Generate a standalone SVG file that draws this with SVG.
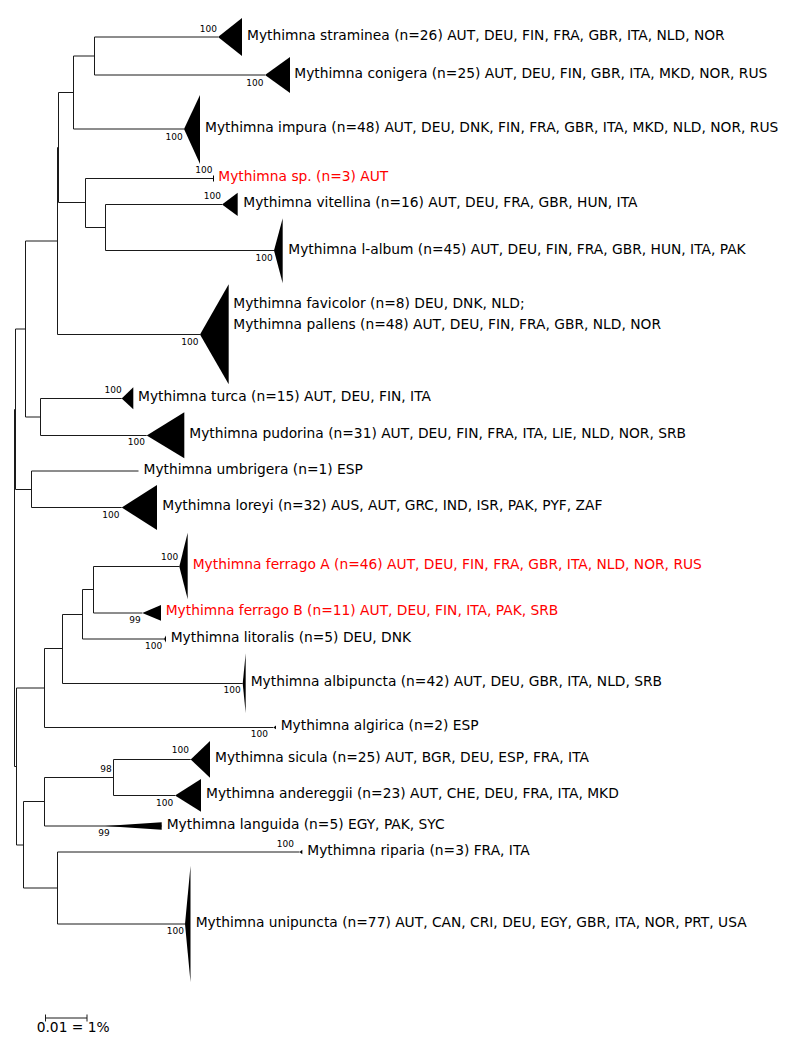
<svg xmlns="http://www.w3.org/2000/svg" width="787" height="1045" viewBox="0 0 787 1045">
<style>
text{font-family:"DejaVu Sans","Liberation Sans",sans-serif;}
.lab{font-size:13.8px;fill:#000;}
.red{fill:#ff0000;}
.bs{font-size:9px;fill:#000;text-anchor:end;}
.tri{fill:#000;stroke:none;}
.br{fill:none;stroke:#1a1a1a;stroke-width:1;}
</style>
<rect width="787" height="1045" fill="#fff"/>
<g id="connectors">
<path class="br" d="M94.5,37 H218 M94.5,75 H265 M94.5,37 V75 M73.5,56 H94.5 M73.5,129 H184 M73.5,56 V129 M58.5,92.5 H73.5
M85.5,178.5 H213.5 M105.5,204.5 H222 M105.5,250.5 H274 M105.5,204.5 V250.5 M85.5,227.5 H105.5 M85.5,178.5 V227.5 M58.5,202.5 H85.5 M58.5,92.5 V202.5
M57.5,147.5 H58.5 M57.5,334.5 H200 M57.5,147.5 V334.5 M25.5,241 H57.5
M40.5,398.5 H121.7 M40.5,435.5 H146.7 M40.5,398.5 V435.5 M25.5,417 H40.5 M25.5,241 V417 M15.5,329 H25.5
M31.5,471 H138.5 M31.5,507.5 H121.7 M31.5,471 V507.5 M15.5,489.5 H31.5 M15.5,329 V489.5 M14.5,409.5 H15.5
M93.5,566.5 H179.3 M93.5,613 H142.3 M93.5,566.5 V613 M82.5,589.5 H93.5 M82.5,639 H164 M82.5,589.5 V639 M62.5,614.5 H82.5
M62.5,683.5 H242.7 M62.5,614.5 V683.5 M44.5,648.5 H62.5 M44.5,727.5 H273.3 M44.5,648.5 V727.5 M16.5,688 H44.5
M113.5,759.5 H190.7 M113.5,795.5 H175 M113.5,759.5 V795.5 M44.5,777.5 H113.5 M44.5,826 H161.7 M44.5,777.5 V826 M23.5,801.5 H44.5
M57.5,852 H299.5 M57.5,924 H185 M57.5,852 V924 M23.5,888 H57.5 M23.5,801.5 V888 M16.5,845 H23.5 M16.5,688 V845 M14.5,766.5 H16.5 M14.5,409.5 V766.5"/>
</g>
<g id="straminea">
<polygon class="tri" points="218,37 242,18 242,56"/>
<text class="bs" x="217" y="32">100</text>
<text class="lab" x="247" y="39.5">Mythimna straminea (n=26) AUT, DEU, FIN, FRA, GBR, ITA, NLD, NOR</text>
</g>
<g id="conigera">
<polygon class="tri" points="265,75 290,57 290,93"/>
<text class="bs" x="263.5" y="85.7">100</text>
<text class="lab" x="294.3" y="78">Mythimna conigera (n=25) AUT, DEU, FIN, GBR, ITA, MKD, NOR, RUS</text>
</g>
<g id="impura">
<polygon class="tri" points="184,129 200,95 200,164"/>
<text class="bs" x="182.8" y="140">100</text>
<text class="lab" x="205" y="132">Mythimna impura (n=48) AUT, DEU, DNK, FIN, FRA, GBR, ITA, MKD, NLD, NOR, RUS</text>
</g>
<g id="sp">
<path d="M213.5,175.5 V181.5" stroke="#000" stroke-width="1"/>
<text class="bs" x="212.5" y="172.7">100</text>
<text class="lab red" x="218.3" y="181">Mythimna sp. (n=3) AUT</text>
</g>
<g id="vitellina">
<polygon class="tri" points="222,204.5 237.7,192.7 237.7,216"/>
<text class="bs" x="221" y="199.3">100</text>
<text class="lab" x="243.3" y="207">Mythimna vitellina (n=16) AUT, DEU, FRA, GBR, HUN, ITA</text>
</g>
<g id="l-album">
<polygon class="tri" points="274,250.5 282.7,218.3 282.7,283.3"/>
<text class="bs" x="272.8" y="260.7">100</text>
<text class="lab" x="288.3" y="253.5">Mythimna l-album (n=45) AUT, DEU, FIN, FRA, GBR, HUN, ITA, PAK</text>
</g>
<g id="favicolor-pallens">
<polygon class="tri" points="200,334.5 228.7,284.3 228.7,384.3"/>
<text class="bs" x="198.5" y="345">100</text>
<text class="lab" x="233.3" y="308">Mythimna favicolor (n=8) DEU, DNK, NLD;</text>
<text class="lab" x="233.3" y="329">Mythimna pallens (n=48) AUT, DEU, FIN, FRA, GBR, NLD, NOR</text>
</g>
<g id="turca">
<polygon class="tri" points="121.7,398.5 133.3,387.3 133.3,409.3"/>
<text class="bs" x="121.7" y="393.3">100</text>
<text class="lab" x="138" y="401">Mythimna turca (n=15) AUT, DEU, FIN, ITA</text>
</g>
<g id="pudorina">
<polygon class="tri" points="146.7,435.5 184.3,412.3 184.3,458.3"/>
<text class="bs" x="145" y="445.3">100</text>
<text class="lab" x="189.3" y="438">Mythimna pudorina (n=31) AUT, DEU, FIN, FRA, ITA, LIE, NLD, NOR, SRB</text>
</g>
<g id="umbrigera">
<text class="lab" x="143.5" y="474">Mythimna umbrigera (n=1) ESP</text>
</g>
<g id="loreyi">
<polygon class="tri" points="121.7,507.5 157,485 157,530"/>
<text class="bs" x="119.5" y="518.3">100</text>
<text class="lab" x="162.3" y="510.3">Mythimna loreyi (n=32) AUS, AUT, GRC, IND, ISR, PAK, PYF, ZAF</text>
</g>
<g id="ferrago-A">
<polygon class="tri" points="179.3,566.5 187.7,532.7 187.7,599.3"/>
<text class="bs" x="178.3" y="560.3">100</text>
<text class="lab red" x="192.7" y="568.5">Mythimna ferrago A (n=46) AUT, DEU, FIN, FRA, GBR, ITA, NLD, NOR, RUS</text>
</g>
<g id="ferrago-B">
<polygon class="tri" points="142.3,613 161,605 161,620.7"/>
<text class="bs" x="140.7" y="623.3">99</text>
<text class="lab red" x="165.7" y="615.3">Mythimna ferrago B (n=11) AUT, DEU, FIN, ITA, PAK, SRB</text>
</g>
<g id="litoralis">
<polygon class="tri" points="164,639 166,635.5 166,642.5"/>
<text class="bs" x="162.3" y="649.3">100</text>
<text class="lab" x="170.7" y="642">Mythimna litoralis (n=5) DEU, DNK</text>
</g>
<g id="albipuncta">
<polygon class="tri" points="242.7,683.5 245.7,653.3 245.7,713.3"/>
<text class="bs" x="240.7" y="693.3">100</text>
<text class="lab" x="250.7" y="686">Mythimna albipuncta (n=42) AUT, DEU, GBR, ITA, NLD, SRB</text>
</g>
<g id="algirica">
<polygon class="tri" points="273.3,727.5 276,725.5 276,729.3"/>
<text class="bs" x="268" y="737.3">100</text>
<text class="lab" x="280.7" y="729.5">Mythimna algirica (n=2) ESP</text>
</g>
<g id="sicula">
<polygon class="tri" points="190.7,759.5 210,741 210,777.7"/>
<text class="bs" x="189" y="753.3">100</text>
<text class="lab" x="215" y="762">Mythimna sicula (n=25) AUT, BGR, DEU, ESP, FRA, ITA</text>
</g>
<g id="sicula-andereggii">
<text class="bs" x="111.7" y="772.3">98</text>
</g>
<g id="andereggii">
<polygon class="tri" points="175,795.5 201,779 201,811.7"/>
<text class="bs" x="173.3" y="805.7">100</text>
<text class="lab" x="206" y="798">Mythimna andereggii (n=23) AUT, CHE, DEU, FRA, ITA, MKD</text>
</g>
<g id="languida">
<polygon class="tri" points="105,826 161.7,822.3 161.7,829.7"/>
<text class="bs" x="109.7" y="836">99</text>
<text class="lab" x="166.7" y="828.5">Mythimna languida (n=5) EGY, PAK, SYC</text>
</g>
<g id="riparia">
<polygon class="tri" points="299.5,852 302.3,849.7 302.3,854.3"/>
<text class="bs" x="294" y="846.7">100</text>
<text class="lab" x="307.3" y="855">Mythimna riparia (n=3) FRA, ITA</text>
</g>
<g id="unipuncta">
<polygon class="tri" points="185,924 190.5,866 190.5,982"/>
<text class="bs" x="184" y="934">100</text>
<text class="lab" x="195.7" y="926.5">Mythimna unipuncta (n=77) AUT, CAN, CRI, DEU, EGY, GBR, ITA, NOR, PRT, USA</text>
</g>
<g id="scale-bar">
<path d="M45.5,1018 H87 M45.5,1014.5 V1021.5 M87,1014.5 V1021.5" stroke="#1a1a1a" stroke-width="1" fill="none"/>
<text class="lab" x="36.7" y="1032">0.01 = 1%</text>
</g>
</svg>
